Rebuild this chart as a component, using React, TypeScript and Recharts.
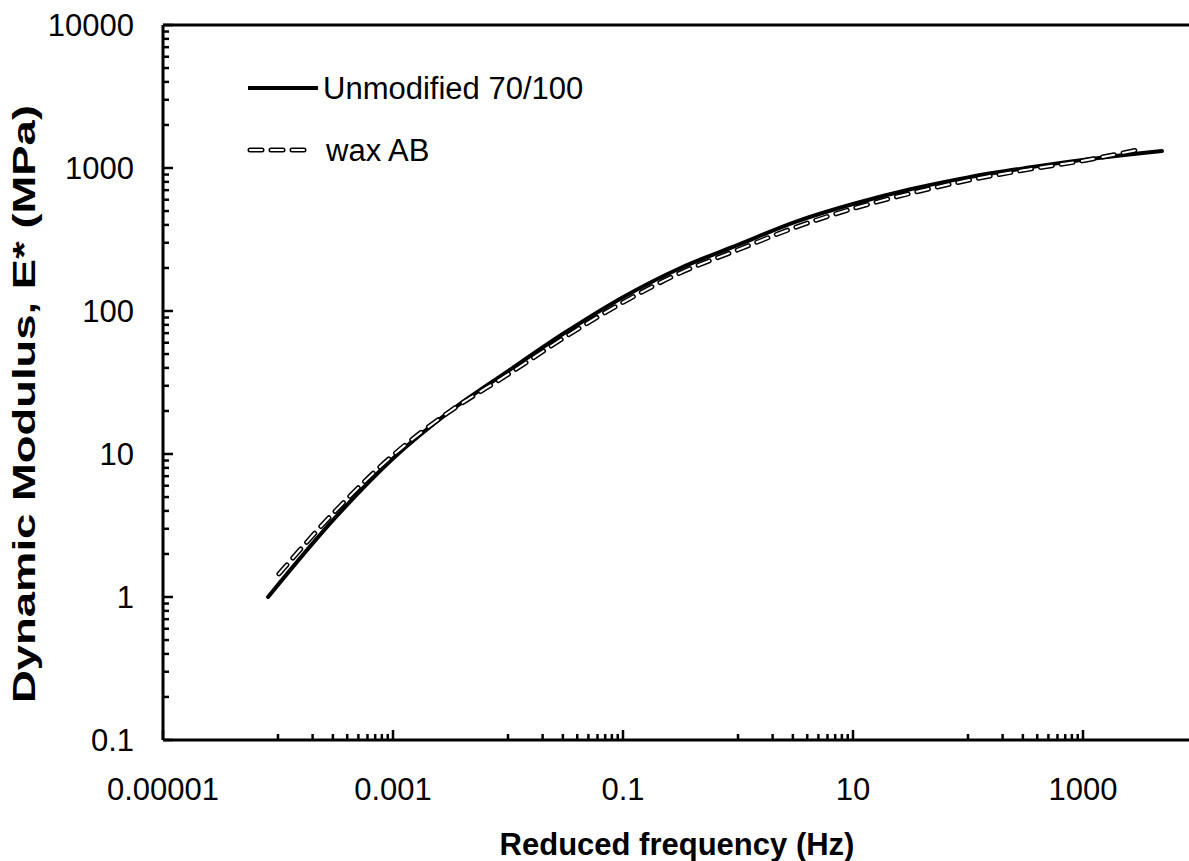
import { LineChart, Line, XAxis, YAxis, ReferenceLine, Legend } from "recharts";

const FONT = '"Liberation Sans", Arial, sans-serif';

// master curves (Hz, MPa)
const unmodFreq = [8.2e-5, 3.16e-4, 1e-3, 3.16e-3, 0.01, 0.0316, 0.1, 0.316, 1, 3.16, 10, 31.6, 100, 316, 1000, 3162, 4860];
const unmodModulus = [1.0, 3.6, 9.3, 20, 38, 71, 125, 200, 290, 420, 560, 710, 860, 1000, 1140, 1270, 1315];

const waxFreq = [1.02e-4, 3.16e-4, 1e-3, 3.16e-3, 0.01, 0.0316, 0.1, 0.316, 1, 3.16, 10, 31.6, 100, 316, 1000, 3000];
const waxModulus = [1.45, 4.0, 9.8, 20, 36, 66, 115, 185, 268, 385, 520, 665, 820, 970, 1125, 1340];

const seriesNames = ["Unmodified 70/100", "wax AB"];

// axis ticks
const xMajorTicks = [1e-5, 1e-3, 0.1, 10, 1000];
const xMajorLabels = ["0.00001", "0.001", "0.1", "10", "1000"];
const xMinorDecades = [1e-4, 1e-2, 1, 100];
const yMajorTicks = [0.1, 1, 10, 100, 1000, 10000];
const yMajorLabels = ["0.1", "1", "10", "100", "1000", "10000"];
const yMinorDecades = [0.1, 1, 10, 100, 1000];
const xMinorSteps = [1, 2, 3, 4, 5, 6, 7, 8, 9];
const yMinorSteps = [2, 3, 4, 5, 6, 7, 8, 9];

const xTicks = [...xMajorTicks, ...xMinorDecades.flatMap((d) => xMinorSteps.map((s) => d * s))];
const yTicks = [...yMajorTicks, ...yMinorDecades.flatMap((d) => yMinorSteps.map((s) => d * s))];

const unmodData = unmodFreq.map((f, i) => ({ f, e: unmodModulus[i] }));
const waxData = waxFreq.map((f, i) => ({ f, e: waxModulus[i] }));

const majorIndex = (list: number[], v: number) =>
  list.findIndex((m) => Math.abs(v / m - 1) < 1e-9);

const XTick = (props: any) => {
  const { x, y, payload } = props;
  const idx = majorIndex(xMajorTicks, payload.value);
  return (
    <g>
      <line x1={x} x2={x} y1={y} y2={y - (idx >= 0 ? 10 : 6)} stroke="#000" strokeWidth={2.5} />
      {idx >= 0 && (
        <text x={x} y={y + 60} textAnchor="middle" fontFamily={FONT} fontSize={31} fill="#000">
          {xMajorLabels[idx]}
        </text>
      )}
    </g>
  );
};

const YTick = (props: any) => {
  const { x, y, payload } = props;
  const idx = majorIndex(yMajorTicks, payload.value);
  return (
    <g>
      <line x1={x} x2={x + (idx >= 0 ? 10 : 6)} y1={y} y2={y} stroke="#000" strokeWidth={2.5} />
      {idx >= 0 && (
        <text x={x - 29} y={y + 11} textAnchor="end" fontFamily={FONT} fontSize={31} fill="#000">
          {yMajorLabels[idx]}
        </text>
      )}
    </g>
  );
};

const renderLegend = () => (
  <svg width={400} height={150} style={{ overflow: "visible" }}>
    <line x1={8} x2={78} y1={48} y2={48} stroke="#000" strokeWidth={4} />
    <text x={83} y={59} fontFamily={FONT} fontSize={31} fill="#000">
      {seriesNames[0]}
    </text>
    <line x1={10} x2={68} y1={110} y2={110} stroke="#000" strokeWidth={5} strokeDasharray="12 9" strokeLinecap="round" />
    <line x1={10} x2={68} y1={110} y2={110} stroke="#fff" strokeWidth={2} strokeDasharray="12 9" strokeLinecap="round" />
    <text x={86} y={121} fontFamily={FONT} fontSize={31} fill="#000">
      {seriesNames[1]}
    </text>
  </svg>
);

export default function App() {
  return (
    <div
      style={{
        position: "fixed",
        left: 0,
        top: 0,
        width: 1189,
        height: 861,
        overflow: "hidden",
        background: "#fff",
      }}
    >
      <LineChart width={1230} height={861} margin={{ top: 25, right: 32, bottom: 0, left: 0 }}>
        <XAxis
          dataKey="f"
          type="number"
          scale="log"
          domain={[1e-5, 1e4]}
          allowDataOverflow
          ticks={xTicks}
          interval={0}
          tickSize={0}
          tickMargin={0}
          tick={<XTick />}
          height={121}
          axisLine={{ stroke: "#000", strokeWidth: 3 }}
          label={{
            value: "Reduced frequency (Hz)",
            position: "insideBottom",
            content: () => (
              <text x={677} y={855} textAnchor="middle" fontFamily={FONT} fontSize={31} fontWeight="bold" fill="#000">
                Reduced frequency (Hz)
              </text>
            ),
          }}
        />
        <YAxis
          dataKey="e"
          type="number"
          scale="log"
          domain={[0.1, 10000]}
          allowDataOverflow
          ticks={yTicks}
          interval={0}
          tickSize={0}
          tickMargin={0}
          tick={<YTick />}
          width={163}
          axisLine={{ stroke: "#000", strokeWidth: 3 }}
          label={{
            value: "Dynamic Modulus, E* (MPa)",
            position: "insideLeft",
            content: () => (
              <text
                transform="translate(35,404) rotate(-90)"
                textAnchor="middle"
                fontFamily={FONT}
                fontSize={32}
                fontWeight="bold"
                fill="#000"
                textLength={598}
                lengthAdjust="spacingAndGlyphs"
              >
                Dynamic Modulus, E* (MPa)
              </text>
            ),
          }}
        />
        <ReferenceLine y={10000} stroke="#000" strokeWidth={3} />
        <Legend
          layout="vertical"
          align="center"
          verticalAlign="middle"
          content={renderLegend}
          wrapperStyle={{ left: 240, top: 40, width: 400, height: 150 }}
        />
        <Line
          data={unmodData}
          dataKey="e"
          name={seriesNames[0]}
          type="monotone"
          stroke="#000"
          strokeWidth={4}
          strokeLinecap="round"
          dot={false}
          activeDot={false}
          isAnimationActive={false}
        />
        <Line
          data={waxData}
          dataKey="e"
          name={seriesNames[1]}
          type="monotone"
          stroke="#000"
          strokeWidth={5}
          strokeDasharray="12 9"
          strokeLinecap="round"
          dot={false}
          activeDot={false}
          isAnimationActive={false}
          legendType="none"
        />
        <Line
          data={waxData}
          dataKey="e"
          type="monotone"
          stroke="#fff"
          strokeWidth={2}
          strokeDasharray="12 9"
          strokeLinecap="round"
          dot={false}
          activeDot={false}
          isAnimationActive={false}
          legendType="none"
        />
      </LineChart>
    </div>
  );
}
